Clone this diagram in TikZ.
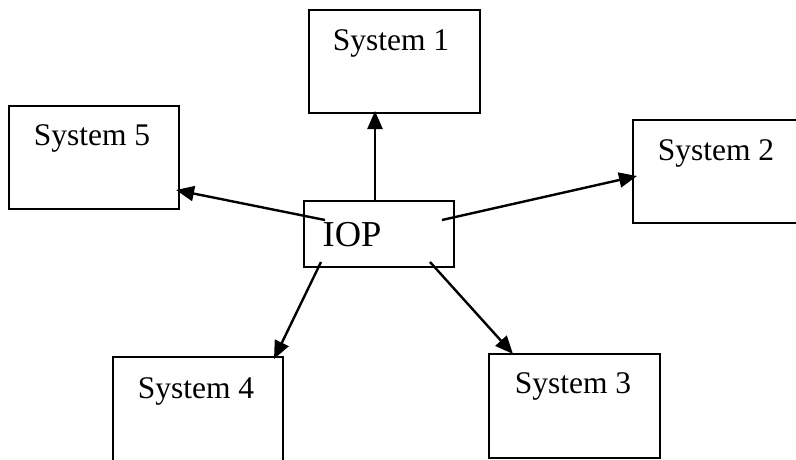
\documentclass[tikz,border=0pt]{standalone}
\usepackage{fontspec}
\setmainfont{Liberation Serif}
\usetikzlibrary{arrows.meta}
\begin{document}
\begin{tikzpicture}[x=1pt,y=-1pt,
  box/.style={draw=black,line width=2.2pt,rectangle,inner sep=0pt,anchor=north west},
  lbl/.style={anchor=base,inner sep=0pt,font=\fontsize{31.5}{36}\selectfont},
  conn/.style={line width=2.4pt,-{Triangle[length=18pt,width=15pt]}}]
\useasboundingbox (0,0) rectangle (796,459);
% boxes
\node[box,minimum width=171pt,minimum height=103pt] (s1) at (308,9) {};
\node[box,minimum width=170pt,minimum height=103pt] (s5) at (8,105) {};
\node[box,minimum width=180pt,minimum height=103pt] (s2) at (632,119) {};
\node[box,minimum width=150pt,minimum height=66pt] (iop) at (303,200) {};
\node[box,minimum width=170pt,minimum height=110pt] (s4) at (112,356) {};
\node[box,minimum width=171pt,minimum height=104pt] (s3) at (488,353) {};
% labels
\node[lbl] (t1) at (391,50) {System 1};
\node[lbl] (t5) at (92,145) {System 5};
\node[lbl] (t2) at (716,160) {System 2};
\node[lbl,font=\fontsize{36.5}{40}\selectfont] (tiop) at (352,246) {IOP};
\node[lbl] (t4) at (196,398) {System 4};
\node[lbl] (t3) at (573,393) {System 3};
% connector ends
\coordinate (a1) at (375,200);
\coordinate (b1) at (375,111);
\coordinate (a5) at (325,220);
\coordinate (b5) at (176,190);
\coordinate (a2) at (442,220);
\coordinate (b2) at (637,176);
\coordinate (a4) at (321,262);
\coordinate (b4) at (274,359);
\coordinate (a3) at (430,262);
\coordinate (b3) at (513,354);
\draw[conn] (a1) -- (b1);
\draw[conn] (a5) -- (b5);
\draw[conn] (a2) -- (b2);
\draw[conn] (a4) -- (b4);
\draw[conn] (a3) -- (b3);
\end{tikzpicture}
\end{document}
